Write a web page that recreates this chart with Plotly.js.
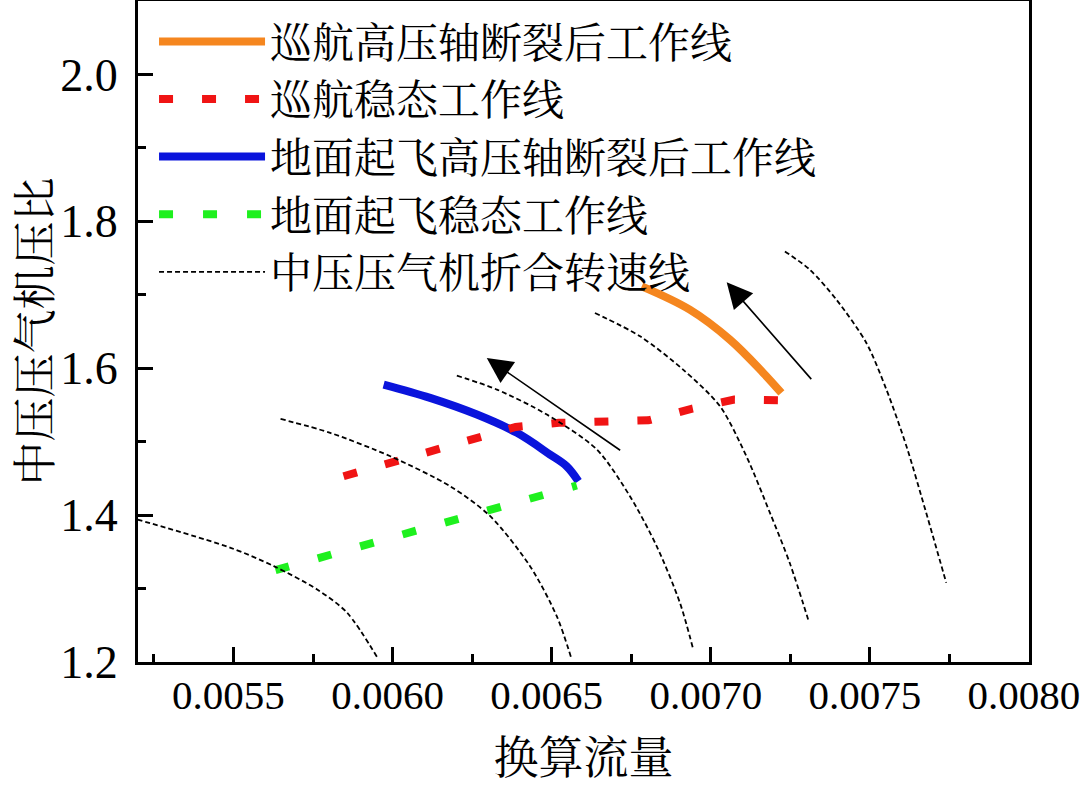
<!DOCTYPE html>
<html>
<head>
<meta charset="utf-8">
<script src="https://cdn.plot.ly/plotly-3.0.1.min.js"></script>
<style>html,body{margin:0;padding:0;background:#fff;}#chart{width:1080px;height:787px;}</style>
</head>
<body>
<div id="chart"></div>
<script>
// Series names
const names = ['巡航高压轴断裂后工作线','巡航稳态工作线','地面起飞高压轴断裂后工作线','地面起飞稳态工作线','中压压气机折合转速线'];

// Cruise, after HP shaft break
const cruiseBreakX = [0.006783, 0.006934, 0.007060, 0.007165, 0.007222];
const cruiseBreakY = [1.7114, 1.6797, 1.6389, 1.5936, 1.5664];

// Cruise steady-state
const cruiseSteadyX = [0.005846, 0.006116, 0.006387, 0.006523, 0.006804, 0.006942, 0.007074, 0.007215];
const cruiseSteadyY = [1.4529, 1.4869, 1.5201, 1.5256, 1.5291, 1.5450, 1.5573, 1.5563];

// Ground take-off, after HP shaft break
const takeoffBreakX = [0.005972, 0.006118, 0.006265, 0.006391, 0.006495, 0.006547, 0.006584];
const takeoffBreakY = [1.5777, 1.5596, 1.5369, 1.5120, 1.4824, 1.4665, 1.4461];

// Ground take-off steady-state
const takeoffSteadyX = [0.005632, 0.006176, 0.006579];
const takeoffSteadyY = [1.3250, 1.3903, 1.4403];

// IP compressor corrected speed lines
const speed1X = [0.005198, 0.005491, 0.005627, 0.005763, 0.005857, 0.005956];
const speed1Y = [1.394, 1.3555, 1.3305, 1.2988, 1.2671, 1.2035];
const speed2X = [0.005648, 0.005804, 0.005993, 0.006181, 0.006307, 0.006432, 0.006516, 0.006563];
const speed2Y = [1.5310, 1.5120, 1.4801, 1.4393, 1.3985, 1.3305, 1.2624, 1.2035];
const speed3X = [0.006202, 0.006328, 0.006485, 0.006642, 0.006746, 0.006830, 0.006903, 0.006945];
const speed3Y = [1.5899, 1.5709, 1.5369, 1.4893, 1.4257, 1.3577, 1.2807, 1.2171];
const speed4X = [0.006636, 0.006778, 0.006913, 0.007029, 0.007112, 0.007186, 0.007248, 0.007306];
const speed4Y = [1.6752, 1.6434, 1.5981, 1.5482, 1.4801, 1.4031, 1.3351, 1.2580];
const speed5X = [0.007233, 0.007311, 0.007395, 0.007489, 0.007552, 0.007615, 0.007677, 0.007740];
const speed5Y = [1.7590, 1.7343, 1.6933, 1.6344, 1.5709, 1.4937, 1.4031, 1.3079];

// Direction arrows: [tailX, tailY, tipX, tipY]
const arrow1 = [0.006720, 1.4869, 0.006296, 1.6140];
const arrow2 = [0.007320, 1.5831, 0.007050, 1.7169];

// Axis ticks
const xTicks = [0.0055, 0.0060, 0.0065, 0.0070, 0.0075, 0.0080];
const xTickText = ['0.0055','0.0060','0.0065','0.0070','0.0075','0.0080'];
const yTicks = [1.2, 1.4, 1.6, 1.8, 2.0];
const yTickText = ['1.2','1.4','1.6','1.8','2.0'];

const speedSets = [[speed1X,speed1Y],[speed2X,speed2Y],[speed3X,speed3Y],[speed4X,speed4Y],[speed5X,speed5Y]];
const speedTraces = speedSets.map((s,i)=>({
  x:s[0], y:s[1], mode:'lines', type:'scatter', name:names[4],
  legendgroup:'speed', showlegend:i===0, legendrank:5,
  line:{color:'#000', width:1.8, dash:'5px,3px', shape:'spline', smoothing:0.8}, hoverinfo:'skip'
}));

const data = [
  {x:cruiseBreakX, y:cruiseBreakY, mode:'lines', type:'scatter', name:names[0], legendrank:1,
   line:{color:'#F5861F', width:8, shape:'spline'}},
  {x:takeoffBreakX, y:takeoffBreakY, mode:'lines', type:'scatter', name:names[2], legendrank:3,
   line:{color:'#0A14DC', width:8, shape:'spline'}},
  {x:cruiseSteadyX, y:cruiseSteadyY, mode:'lines', type:'scatter', name:names[1], legendrank:2,
   line:{color:'#F01414', width:8, dash:'14px,29px'}},
  {x:takeoffSteadyX, y:takeoffSteadyY, mode:'lines', type:'scatter', name:names[3], legendrank:4,
   line:{color:'#1EF01E', width:8, dash:'14px,30px'}},
  ...speedTraces
];

const cjk = '"Noto Serif CJK SC", "Noto Sans CJK SC", sans-serif';
const serif = '"Liberation Serif", "Times New Roman", serif';

const annotations = [arrow1, arrow2].map(a=>({
  x:a[2], y:a[3], ax:a[0], ay:a[1], xref:'x', yref:'y', axref:'x', ayref:'y',
  showarrow:true, arrowhead:2, arrowsize:3.2, arrowwidth:1.6, arrowcolor:'#000', text:''
}));

const layout = {
  width:1080, height:787,
  margin:{l:138, r:51, t:1, b:125, pad:0},
  paper_bgcolor:'#fff', plot_bgcolor:'#fff',
  showlegend:true,
  legend:{x:0.018, y:0.99, xanchor:'left', yanchor:'top', bgcolor:'rgba(0,0,0,0)',
          borderwidth:0, itemwidth:106, font:{family:cjk, size:42, color:'#000'}, tracegroupgap:0},
  xaxis:{range:[0.0052,0.0080001], tickmode:'array', tickvals:xTicks, ticktext:xTickText,
         ticks:'inside', ticklen:15, tickwidth:3, tickcolor:'#000', ticklabeloverflow:'allow',
         ticklabelshift:-5,
         minor:{dtick:0.00025, tick0:0.0050, ticks:'inside', ticklen:8, tickwidth:3, tickcolor:'#000'},
         showline:true, linecolor:'#000', linewidth:3, mirror:true, showgrid:false, zeroline:false,
         tickfont:{family:serif, size:41, color:'#000'}, ticklabelstandoff:-5,
         title:{text:'\u3000换算流量', font:{family:cjk, size:45, color:'#000'}, standoff:36}},
  yaxis:{range:[1.2,2.1], tickmode:'array', tickvals:yTicks, ticktext:yTickText,
         ticks:'inside', ticklen:15, tickwidth:3, tickcolor:'#000',
         minor:{dtick:0.1, tick0:1.2, ticks:'inside', ticklen:8, tickwidth:3, tickcolor:'#000'},
         showline:true, linecolor:'#000', linewidth:3, mirror:true, showgrid:false, zeroline:false,
         tickfont:{family:serif, size:46, color:'#000'}, ticklabelstandoff:8,
         title:{text:'中压压气机压比', font:{family:cjk, size:44, color:'#000'}, standoff:28}},
  annotations:annotations
};

Plotly.newPlot('chart', data, layout, {displayModeBar:false, staticPlot:true});
</script>
</body>
</html>
